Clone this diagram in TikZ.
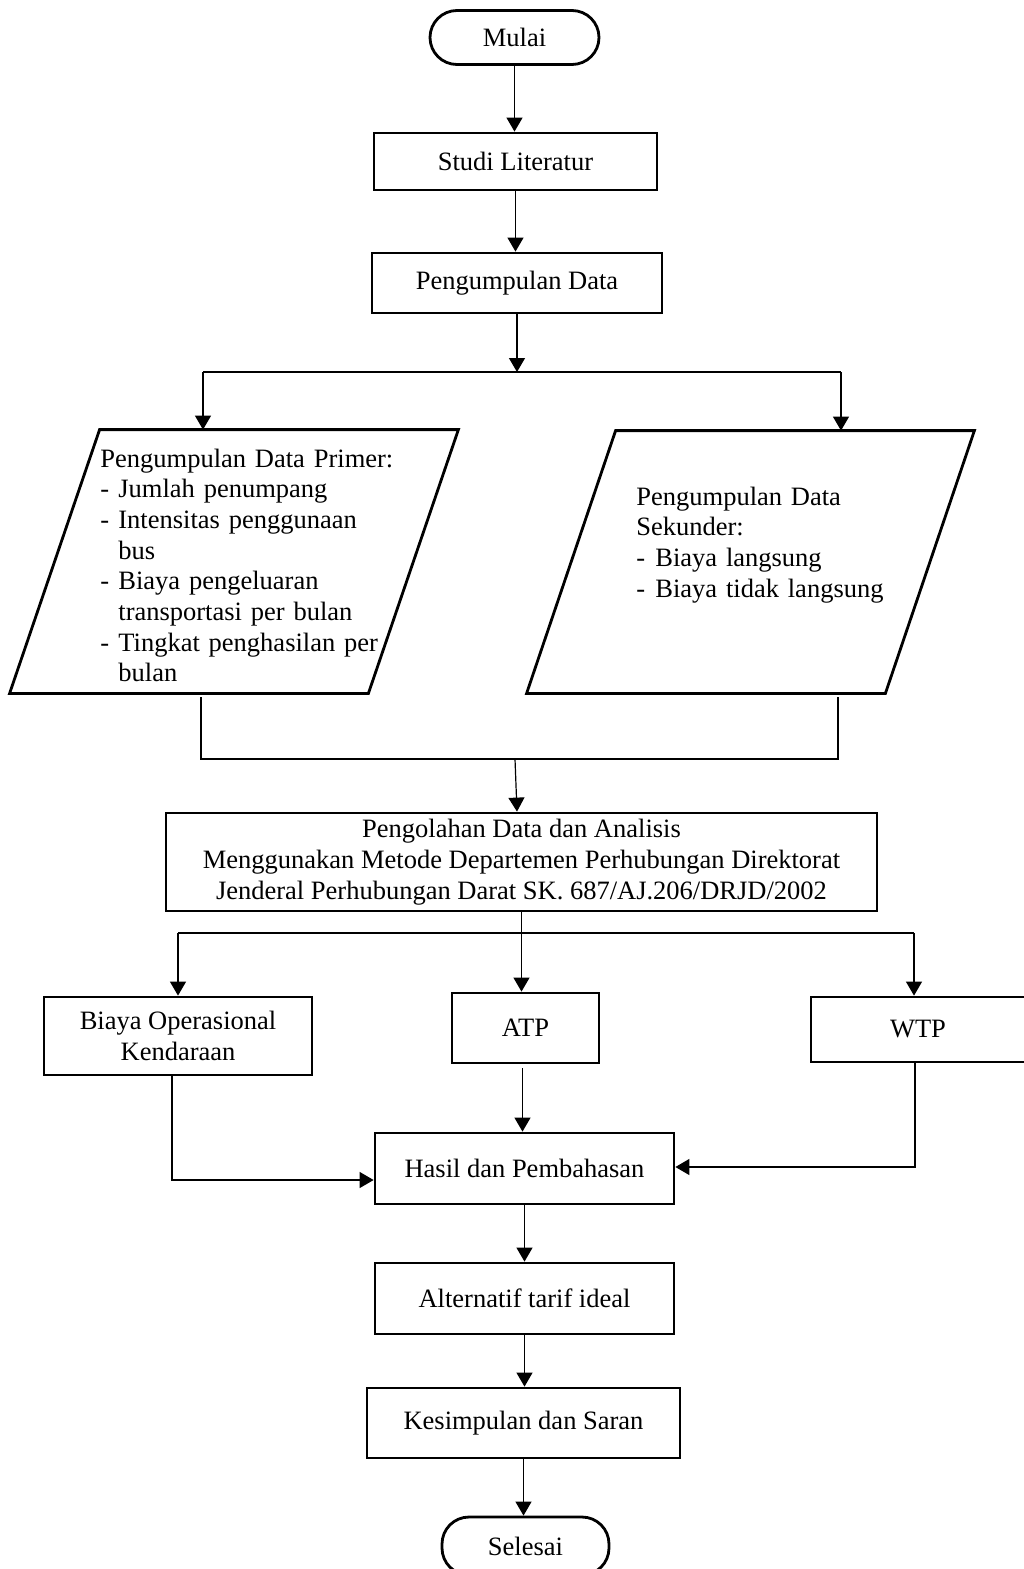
\documentclass[tikz,border=0pt]{standalone}
\usepackage{fontspec}
\setmainfont{Liberation Serif}
\usetikzlibrary{arrows.meta}
\tikzset{
  txt/.style={font=\fontsize{13.25pt}{15.35pt}\selectfont},
  box/.style={txt, draw, line width=1.4pt, inner sep=0pt, align=center},
  term/.style={box, rounded corners=13.5pt},
  ghost/.style={inner sep=0pt},
  para/.style={draw, line width=1.4pt, line join=miter},
  conn/.style={line width=0.6pt},
  arr/.style={conn, -{Triangle[length=7pt,width=8pt]}},
}
\begin{document}
\begin{tikzpicture}[x=0.5pt,y=-0.5pt]
\useasboundingbox (0,0) rectangle (1023,1569);

% nodes
\node[term, minimum width=84.5pt, minimum height=27pt] (mulai) at (514.5,37.5) {Mulai};
\node[box, minimum width=141.5pt, minimum height=28.5pt] (studi) at (515.5,161.5) {Studi Literatur};
\node[box, minimum width=145pt, minimum height=30pt] (peng) at (517,283) {Pengumpulan Data};

\node[ghost, minimum width=179pt, minimum height=131.5pt] (prim) at (234,561.5) {};
\draw[para] ([xshift=22.5pt]prim.north west) -- ([xshift=22.5pt]prim.north east)
  -- ([xshift=-22.5pt]prim.south east) -- ([xshift=-22.5pt]prim.south west) -- cycle;
\node[txt, ghost, anchor=base west, text width=160pt, align=left] (primtxt) at (100,467)
  {Pengumpulan Data Primer:\\
   \makebox[9pt][l]{-}Jumlah penumpang\\
   \makebox[9pt][l]{-}Intensitas penggunaan\\
   \hspace*{9pt}bus\\
   \makebox[9pt][l]{-}Biaya pengeluaran\\
   \hspace*{9pt}transportasi per bulan\\
   \makebox[9pt][l]{-}Tingkat penghasilan per\\
   \hspace*{9pt}bulan};

\node[ghost, minimum width=179pt, minimum height=131pt] (sek) at (750.5,562) {};
\draw[para] ([xshift=22.25pt]sek.north west) -- ([xshift=22.25pt]sek.north east)
  -- ([xshift=-22.25pt]sek.south east) -- ([xshift=-22.25pt]sek.south west) -- cycle;
\node[txt, ghost, anchor=base west, text width=150pt, align=left] (sektxt) at (636,505)
  {Pengumpulan Data\\
   Sekunder:\\
   \makebox[9.5pt][l]{-}Biaya langsung\\
   \makebox[9.5pt][l]{-}Biaya tidak langsung};

\node[box, minimum width=355.5pt, minimum height=49pt] (olah) at (521.5,862)
  {Pengolahan Data dan Analisis\\
   Menggunakan Metode Departemen Perhubungan Direktorat\\
   Jenderal Perhubungan Darat SK. 687/AJ.206/DRJD/2002};

\node[box, minimum width=134pt, minimum height=39pt] (biaya) at (178,1036) {Biaya Operasional\\Kendaraan};
\node[box, minimum width=73.5pt, minimum height=35pt] (atp) at (525.5,1028) {ATP};
\node[box, minimum width=107pt, minimum height=32.5pt] (wtp) at (918,1029.5) {WTP};
\node[box, minimum width=149.5pt, minimum height=35.5pt] (hasil) at (524.5,1168.5) {Hasil dan Pembahasan};
\node[box, minimum width=149.5pt, minimum height=35.5pt] (alt) at (524.5,1298.5) {Alternatif tarif ideal};
\node[box, minimum width=156.5pt, minimum height=35pt] (kes) at (523.5,1423) {Kesimpulan dan Saran};
\node[term, minimum width=83.5pt, minimum height=29pt] (selesai) at (525.5,1546) {Selesai};

% junction coordinates
\coordinate (s1) at (203,372);
\coordinate (s2) at (841,372);
\coordinate (s0) at (516,372);
\coordinate (j1) at (201,759);
\coordinate (j2) at (838,759);
\coordinate (j3) at (515,759);
\coordinate (b1) at (178,933);
\coordinate (b2) at (914,933);
\coordinate (c1) at (172,1180);
\coordinate (c2) at (915,1167);

% connectors
\draw[arr] (mulai.south) -- (mulai.south |- studi.north);
\draw[arr] (studi.south) -- (studi.south |- peng.north);
\draw[arr] (peng.south) -- (peng.south |- s0);
\draw[conn] (s1) -- (s2);
\draw[arr] (s1) -- (s1 |- prim.north);
\draw[arr] (s2) -- (s2 |- sek.north);

\draw[conn, shorten <=2pt, shorten >=2pt] (j1 |- prim.south) -- (j1) -- (j2) -- (j2 |- sek.south);
\draw[arr] (j3) -- ([xshift=1pt]j3 |- olah.north);

\draw[arr] (olah.south) -- (olah.south |- atp.north);
\draw[conn] (b1) -- (b2);
\draw[arr] (b1) -- (b1 |- biaya.north);
\draw[arr] (b2) -- (b2 |- wtp.north);

\draw[arr, shorten <=2pt] ([xshift=-1.5pt]atp.south) -- ([xshift=-1.5pt]atp.south |- hasil.north);
\draw[arr] (c1 |- biaya.south) -- (c1) -- (c1 -| hasil.west);
\draw[arr] (c2 |- wtp.south) -- (c2) -- (c2 -| hasil.east);

\draw[arr] (hasil.south) -- (hasil.south |- alt.north);
\draw[arr] (alt.south) -- (alt.south |- kes.north);
\draw[arr] (kes.south) -- (kes.south |- selesai.north);
\end{tikzpicture}
\end{document}
